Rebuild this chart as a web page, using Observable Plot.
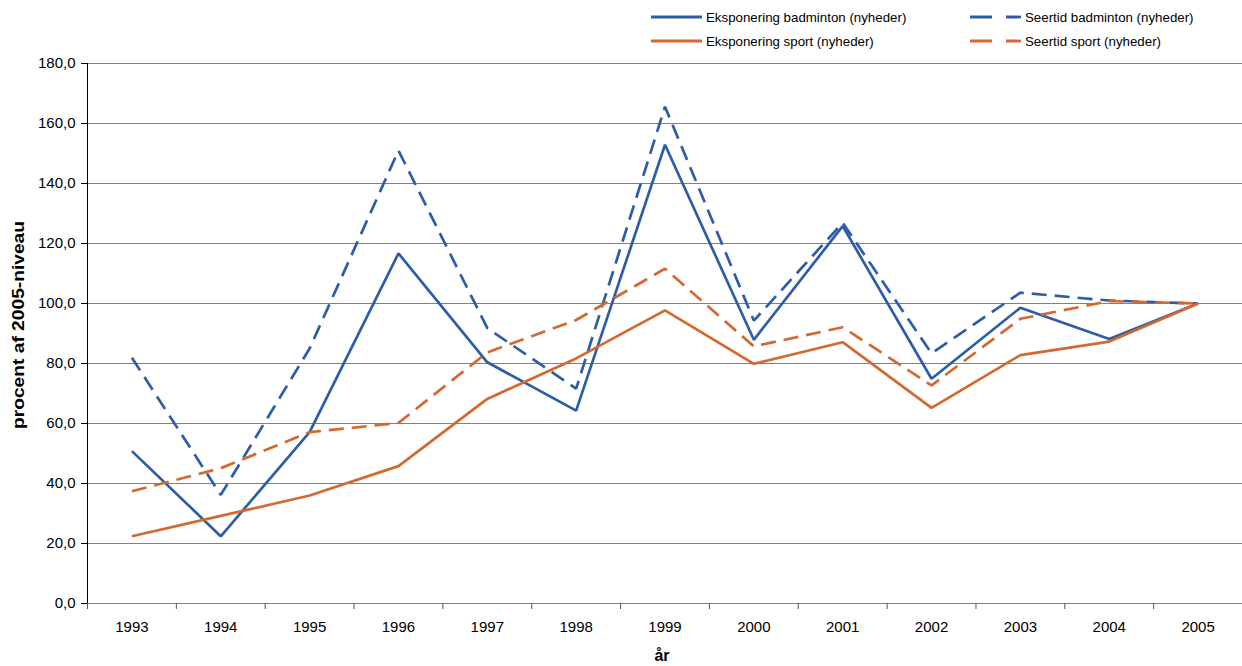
<!DOCTYPE html>
<html>
<head>
<meta charset="utf-8">
<script src="https://cdn.jsdelivr.net/npm/d3@7"></script>
<script src="https://cdn.jsdelivr.net/npm/@observablehq/plot@0.6"></script>
<style>
  html, body { margin: 0; padding: 0; background: #fff; }
  #wrap { position: relative; width: 1242px; height: 666px; font-family: "Liberation Sans", Arial, sans-serif; }
  #chart { position: absolute; left: 0; top: 0; }
  .leg { position: absolute; display: flex; align-items: center; font-size: 13.3px; color: #000; white-space: nowrap; }
  .leg svg { margin-right: 4px; }
</style>
</head>
<body>
<div id="wrap">
  <div id="chart"></div>
</div>
<script>
const years = [1993, 1994, 1995, 1996, 1997, 1998, 1999, 2000, 2001, 2002, 2003, 2004, 2005];
const ekspBadminton = [50.8, 22.4, 57.1, 116.7, 80.4, 64.3, 152.9, 87.9, 125.8, 74.9, 98.6, 88.2, 100];
const seerBadminton = [81.9, 36.2, 85.0, 151.0, 91.8, 71.6, 165.6, 94.3, 126.9, 83.4, 103.6, 101.0, 100];
const ekspSport = [22.4, 29.2, 36.0, 45.8, 68.2, 81.7, 97.7, 79.9, 87.1, 65.2, 82.8, 87.3, 100];
const seerSport = [37.4, 45.1, 57.1, 60.2, 83.7, 94.5, 111.6, 85.7, 92.1, 72.7, 94.9, 100.8, 100];
const yTicks = [0, 20, 40, 60, 80, 100, 120, 140, 160, 180];
const seriesNames = ["Eksponering badminton (nyheder)", "Seertid badminton (nyheder)", "Eksponering sport (nyheder)", "Seertid sport (nyheder)"];

const BLUE = "#2D5DA8";
const ORANGE = "#D5682F";
const DASH = "15,8";

const series = [
  {name: seriesNames[0], values: ekspBadminton, color: BLUE, dash: null},
  {name: seriesNames[1], values: seerBadminton, color: BLUE, dash: DASH},
  {name: seriesNames[2], values: ekspSport, color: ORANGE, dash: null},
  {name: seriesNames[3], values: seerSport, color: ORANGE, dash: DASH}
];
const rows = series.flatMap(s => years.map((yr, i) => ({year: yr, value: s.values[i], name: s.name})));
const boundaries = years.map(y => y - 0.5).concat([years[years.length - 1] + 0.5]);
const fmt = d => d.toFixed(1).replace(".", ",");

const lineMarks = series.map(s => Plot.line(rows.filter(r => r.name === s.name), {
  x: "year", y: "value", stroke: s.color, strokeWidth: 2.7,
  strokeDasharray: s.dash, strokeLinejoin: "miter", strokeLinecap: "butt"
}));

const plot = Plot.plot({
  width: 1242,
  height: 666,
  marginTop: 63,
  marginBottom: 63,
  marginLeft: 87,
  marginRight: 0,
  style: {fontFamily: "'Liberation Sans', Arial, sans-serif", fontSize: "15px", color: "#000", background: "#fff"},
  x: {domain: [boundaries[0], boundaries[boundaries.length - 1]], axis: null},
  y: {domain: [0, 180], axis: null},
  marks: [
    Plot.ruleY(yTicks, {stroke: "#808080", strokeWidth: 1.2}),
    Plot.axisX(years, {tickSize: 0, tickPadding: 18, tickFormat: d => String(d), fontSize: 15, label: null}),
    Plot.axisX(boundaries, {tickSize: 6, tickFormat: () => "", label: null, stroke: "#555"}),
    Plot.axisY(yTicks, {tickSize: 6, tickPadding: 6, tickFormat: fmt, fontSize: 15, label: null, stroke: "#000"}),
    Plot.ruleX([boundaries[0]], {stroke: "#000", strokeWidth: 1}),
    ...lineMarks
  ]
});
document.getElementById("chart").appendChild(plot);

const svg = d3.select(plot);
svg.append("text")
  .attr("transform", "translate(24,325) rotate(-90)")
  .attr("text-anchor", "middle")
  .attr("font-weight", "bold")
  .attr("font-size", 16)
  .attr("textLength", 208)
  .attr("lengthAdjust", "spacingAndGlyphs")
  .attr("fill", "#000")
  .text("procent af 2005-niveau");
svg.append("text")
  .attr("x", 662)
  .attr("y", 661)
  .attr("text-anchor", "middle")
  .attr("font-weight", "bold")
  .attr("font-size", 16)
  .attr("fill", "#000")
  .text("år");

// legend
const legendPos = [
  {left: 651, top: 8},
  {left: 970, top: 8},
  {left: 651, top: 32},
  {left: 970, top: 32}
];
const wrap = document.getElementById("wrap");
series.forEach((s, i) => {
  const div = document.createElement("div");
  div.className = "leg";
  div.style.left = legendPos[i].left + "px";
  div.style.top = legendPos[i].top + "px";
  div.style.height = "18px";
  const dashArr = s.dash ? "22,14" : null;
  div.innerHTML = `<svg width="51" height="6"><line x1="0" y1="3" x2="51" y2="3" stroke="${s.color}" stroke-width="2.8" ${dashArr ? `stroke-dasharray="${dashArr}"` : ""}></line></svg><span>${s.name}</span>`;
  wrap.appendChild(div);
});
</script>
</body>
</html>
